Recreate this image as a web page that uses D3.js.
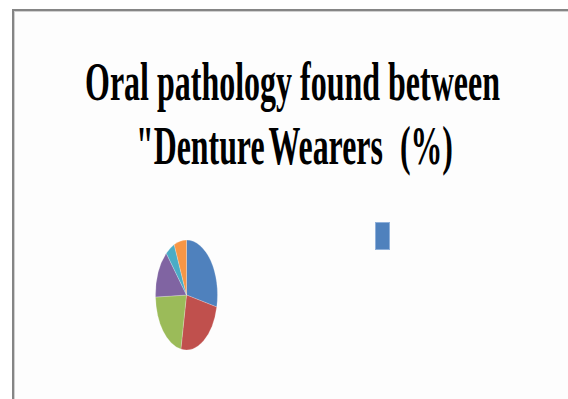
<!DOCTYPE html>
<html>
<head>
<meta charset="utf-8">
<script src="https://cdn.jsdelivr.net/npm/d3@7"></script>
<style>
html,body{margin:0;padding:0;background:#ffffff;}
svg{display:block;}
text{white-space:pre;}
</style>
</head>
<body>
<svg id="chart" width="568" height="399"></svg>
<script>
const titleLine1 = ["Oral pathology found between"];
const titleLine2 = ["\"Denture ", "Wearers  ", "(%)"];
const categories = ["Denture stomatitis", "Traumatic ulcer", "Denture hyperplasia", "Angular cheilitis", "Candidiasis", "Others"];
const values = [28.5, 24.4, 21.5, 14.3, 4.8, 6.5];
const colors = ["#4f81bd", "#c0504d", "#9bbb59", "#8064a2", "#4bacc6", "#f79646"];

const svg = d3.select("#chart");

// chart area frame (extends past the right and bottom edges)
svg.append("rect").attr("x", 13).attr("y", 10).attr("width", 600).attr("height", 450)
  .attr("fill", "#fdfdfd").attr("stroke", "#858585").attr("stroke-width", 2);
svg.append("rect").attr("x", 14.5).attr("y", 11.5).attr("width", 600).attr("height", 450)
  .attr("fill", "none").attr("stroke", "#d0d0d0").attr("stroke-width", 1);

// title (condensed bold serif)
const titleSpecs = [
  {parts: titleLine1, spacing: [0], cx: 292.5, baseline: 99.5, width: 415},
  {parts: titleLine2, spacing: [-7, 1, 0], cx: 294.5, baseline: 163.5, width: 317}
];
titleSpecs.forEach(s => {
  const g = svg.append("g");
  const t = g.append("text")
    .attr("xml:space", "preserve")
    .attr("font-family", "'Liberation Serif','Times New Roman',serif")
    .attr("font-weight", "bold").attr("font-size", 55)
    .attr("fill", "#000").attr("text-anchor", "middle").attr("x", 0).attr("y", 0);
  t.selectAll("tspan").data(s.parts).join("tspan")
    .text(d => d)
    .attr("word-spacing", (d, i) => s.spacing[i]);
  const w = t.node().getComputedTextLength();
  const sx = s.width / w;
  g.attr("transform", `translate(${s.cx},${s.baseline}) scale(${sx},1)`);
});

// pie (squashed horizontally)
const cx = 186.5, cy = 295, rx = 31, ry = 55;
const pie = d3.pie().sort(null).value(d => d)(values);
const arc = d3.arc().innerRadius(0).outerRadius(ry);
const color = d3.scaleOrdinal().domain(categories).range(colors);
const pg = svg.append("g").attr("transform", `translate(${cx},${cy}) scale(${rx/ry},1)`);
pg.selectAll("path").data(pie).join("path")
  .attr("d", arc)
  .attr("fill", (d, i) => color(categories[i]))
  .attr("stroke", "#ffffff").attr("stroke-opacity", 0.35).attr("stroke-width", 0.8);

// legend (only the first marker is visible)
const legend = svg.append("g");
legend.selectAll("rect").data(categories.slice(0, 1)).join("rect")
  .attr("x", 375.5).attr("y", 222.5).attr("width", 14).attr("height", 27)
  .attr("fill", d => color(d)).attr("stroke", "#8fb0da").attr("stroke-width", 1);
</script>
</body>
</html>
